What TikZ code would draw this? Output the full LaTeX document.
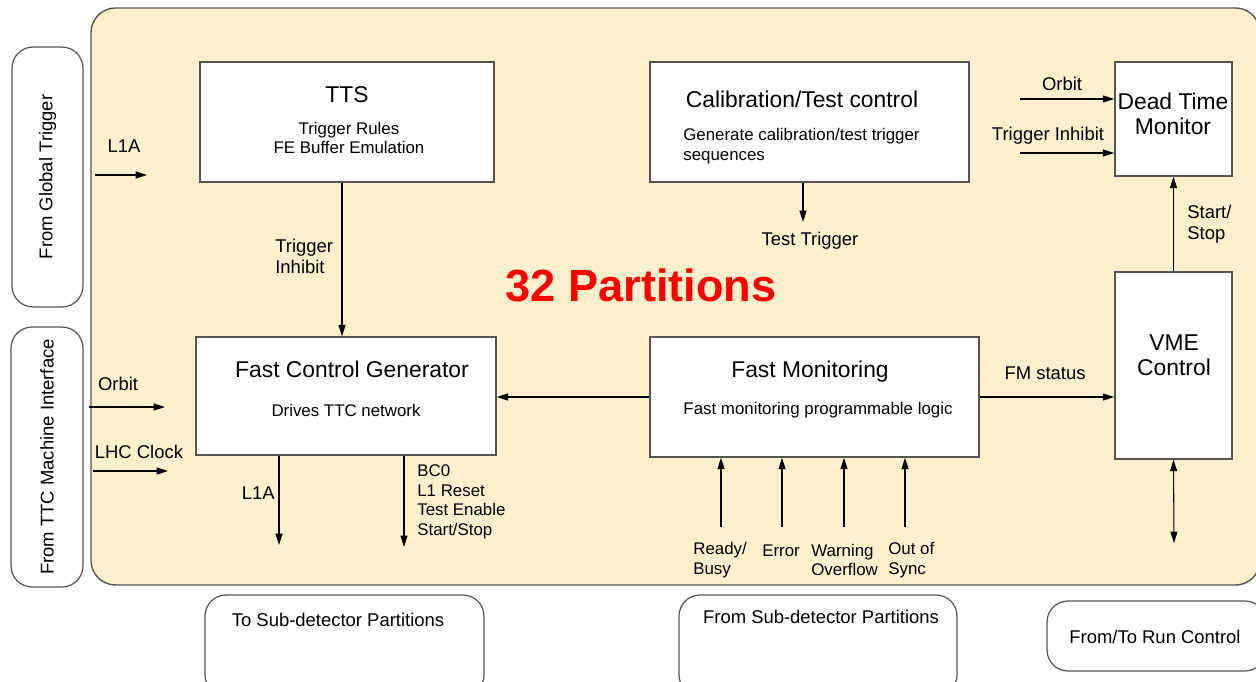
\documentclass[tikz,border=0pt]{standalone}
\usepackage{fontspec}
\setmainfont{Liberation Sans}
\usetikzlibrary{arrows.meta,fit}

\definecolor{crate}{RGB}{255,240,205}
\definecolor{edge}{RGB}{85,85,85}

\newcommand{\blocktitle}{\fontsize{13}{14}\selectfont}
\newcommand{\blocknote}{\fontsize{9.6}{11.2}\selectfont}
\newcommand{\siglabel}{\fontsize{10.5}{12}\selectfont}

\begin{document}
\begin{tikzpicture}[x=0.02cm,y=-0.02cm,
  block/.style={draw=edge,line width=.8pt,fill=white,inner sep=0pt},
  ext/.style={draw=edge,line width=.7pt,rounded corners=12pt},
  sig/.style={line width=.6pt,-{Triangle[length=6.5pt,width=4pt]}},
  lbl/.style={font=\siglabel,inner sep=0pt,align=left},
  note/.style={font=\blocknote,inner sep=0pt,align=left}]
 \useasboundingbox (0,0) rectangle (1256,682);
 \clip (0,0) rectangle (1256,682);
 \draw[draw=edge,line width=.8pt,fill=crate,rounded corners=14pt] (91,8) rectangle (1260,585);

 % outside sources and sinks
 \node[ext,rotate=90,minimum width=5.2cm,minimum height=1.42cm,font=\siglabel] (gt) at (47.5,177) {From Global Trigger};
 \node[ext,rotate=90,minimum width=5.2cm,minimum height=1.44cm,font=\siglabel] (ttcmi) at (47,457) {From TTC Machine Interface};
 \draw[ext] (205,595) rectangle (484,696);
 \draw[ext] (679,595) rectangle (957,696);
 \draw[ext] (1047,601) rectangle (1266,671);
 \node[lbl] (tosub) at (338,620) {To Sub-detector Partitions};
 \node[lbl] (fromsub) at (821,617) {From Sub-detector Partitions};
 \node[lbl] (runctl) at (1155,637) {From/To Run Control};

 % blocks
 \node[block,fit={(200,62) (494,182)}] (tts) {};
 \node[block,fit={(650,62) (969,182)}] (calib) {};
 \node[block,fit={(1115,62) (1232,176)}] (dtm) {};
 \node[block,fit={(196,337) (496,455)}] (fcg) {};
 \node[block,fit={(650,337) (979,457)}] (fm) {};
 \node[block,fit={(1115,272) (1232,459)}] (vme) {};

 \node[font=\blocktitle] (ttsname) at (347,95) {TTS};
 \node[note,align=center] (ttsnote) at (349,138) {Trigger Rules\\ FE Buffer Emulation};
 \node[font=\blocktitle] (calibname) at (802,99) {Calibration/Test control};
 \node[note,anchor=west] (calibnote) at (683,146) {Generate calibration/test trigger\\sequences};
 \node[font=\blocktitle,align=center,inner sep=0pt] (dtmname) at (1173,114) {Dead Time\\Monitor};
 \node[font=\blocktitle] (fcgname) at (352,369) {Fast Control Generator};
 \node[note] (fcgnote) at (346,410) {Drives TTC network};
 \node[font=\blocktitle] (fmname) at (810,372) {Fast Monitoring};
 \node[note] (fmnote) at (818,410) {Fast monitoring programmable logic};
 \node[font=\blocktitle,align=center,inner sep=0pt] (vmename) at (1174,355) {VME\\Control};

 \node[font=\bfseries\fontsize{25.7}{28}\selectfont,text=red] (npart) at (641,285) {32 Partitions};

 % inputs from the left
 \coordinate (gtout) at (95,175);   \coordinate (gtin) at (147,175);
 \coordinate (orbout) at (89,407);  \coordinate (orbin) at (165,407);
 \coordinate (clkout) at (93,471);  \coordinate (clkin) at (168,471);
 \draw[sig] (gtout) -- (gtin);
 \draw[sig] (orbout) -- (orbin);
 \draw[sig] (clkout) -- (clkin);
 \node[lbl] (l1ain) at (124,146) {L1A};
 \node[lbl] (orbitin) at (118,384) {Orbit};
 \node[lbl] (lhcclk) at (139,452) {LHC Clock};

 % TTS -> FCG, FM -> FCG
 \draw[sig] ([xshift=-0.1cm]tts.south) -- ([xshift=-0.1cm]tts.south |- fcg.north);
 \node[lbl,anchor=west] (inhlbl) at (275,256) {Trigger\\Inhibit};
 \draw[sig] (fm.west) -- (fm.west -| fcg.east);

 % outputs of the FCG
 \coordinate (l1aout) at (279,545);
 \coordinate (cmdout) at (404,547);
 \draw[sig] (l1aout |- fcg.south) -- (l1aout);
 \draw[sig] (cmdout |- fcg.south) -- (cmdout);
 \node[lbl,anchor=east] (l1alb) at (275,493) {L1A};
 \node[note,anchor=west] (cmdlb) at (417,502) {BC0\\L1 Reset\\Test Enable\\Start/Stop};

 % calibration trigger
 \coordinate (tt) at (803,222);
 \draw[sig] (calib.south -| tt) -- (tt);
 \node[lbl] (ttlb) at (810,241) {Test Trigger};

 % dead time monitor inputs
 \coordinate (dtorb) at (1020,99);
 \coordinate (dtinh) at (1020,153);
 \draw[sig] (dtorb) -- (dtorb -| dtm.west);
 \draw[sig] (dtinh) -- (dtinh -| dtm.west);
 \node[lbl] (dtorblb) at (1062,84) {Orbit};
 \node[lbl] (dtinhlb) at (1048,136) {Trigger Inhibit};
 \draw[sig] (vme.north) -- (dtm.south);
 \node[lbl,anchor=west] (sslb) at (1187,224) {Start/\\Stop};

 % FM status and VME link
 \draw[sig] (fm.east) -- (fm.east -| vme.west);
 \node[lbl] (fmst) at (1045,373) {FM status};
 \coordinate (vmeio) at (1174,543);
 \draw[sig,{Triangle[length=6.5pt,width=4pt]}-{Triangle[length=6.5pt,width=4pt]}] (vme.south) -- (vmeio);

 % partition states into FM
 \foreach \x/\n in {721/rdy,782/err,844/warn,905/oos} {
  \coordinate (\n) at (\x,527);
  \draw[sig] (\n) -- (\n |- fm.south);
 }
 \node[note,anchor=west] (rdylb) at (693,560) {Ready/\\Busy};
 \node[note] (errlb) at (781,551) {Error};
 \node[note,anchor=west] (warnlb) at (811,560) {Warning\\Overflow};
 \node[note,anchor=west] (ooslb) at (888,560) {Out of\\Sync};
\end{tikzpicture}
\end{document}
